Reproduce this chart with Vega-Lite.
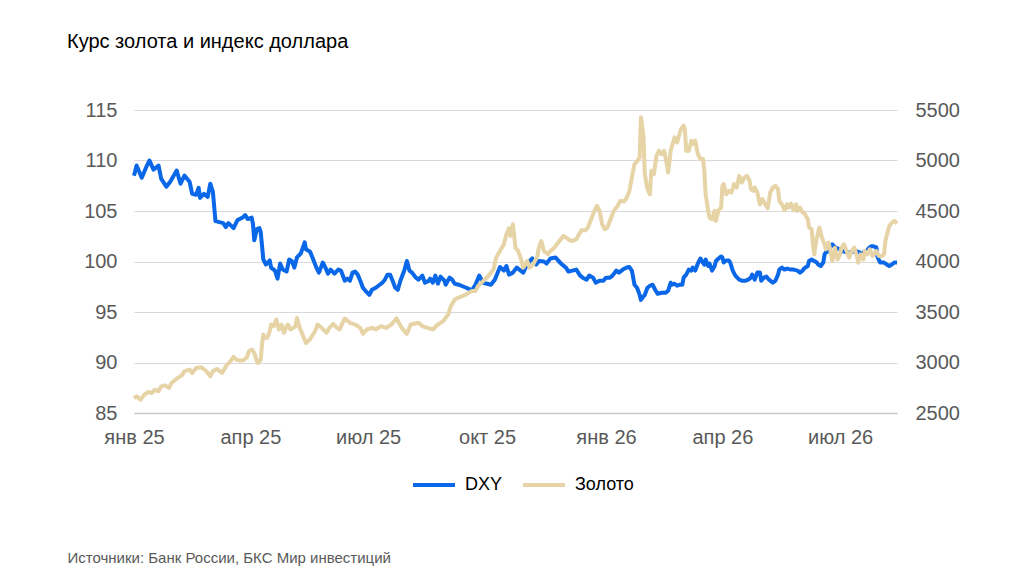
{
  "$schema": "https://vega.github.io/schema/vega-lite/v6.json",
  "description": "Курс золота и индекс доллара DXY, янв 2025 - авг 2026",
  "width": 763,
  "height": 303,
  "autosize": {"type": "none"},
  "padding": {"left": 134, "top": 110, "right": 127, "bottom": 170},
  "background": "white",
  "title": {
    "text": "Курс золота и индекс доллара",
    "anchor": "start",
    "frame": "group",
    "dx": -67,
    "offset": 32,
    "baseline": "alphabetic",
    "font": "Liberation Sans",
    "fontSize": 20,
    "fontWeight": "normal",
    "color": "#000000"
  },
  "data": {
    "values": [
      {"date": "2025-01-01", "series": "DXY", "value": 108.5},
      {"date": "2025-01-03", "series": "DXY", "value": 109.5},
      {"date": "2025-01-07", "series": "DXY", "value": 108.3},
      {"date": "2025-01-11", "series": "DXY", "value": 109.5},
      {"date": "2025-01-13", "series": "DXY", "value": 110.0},
      {"date": "2025-01-16", "series": "DXY", "value": 109.1},
      {"date": "2025-01-20", "series": "DXY", "value": 109.5},
      {"date": "2025-01-22", "series": "DXY", "value": 108.2},
      {"date": "2025-01-26", "series": "DXY", "value": 107.4},
      {"date": "2025-01-29", "series": "DXY", "value": 107.9},
      {"date": "2025-02-03", "series": "DXY", "value": 109.0},
      {"date": "2025-02-06", "series": "DXY", "value": 107.7},
      {"date": "2025-02-09", "series": "DXY", "value": 108.5},
      {"date": "2025-02-13", "series": "DXY", "value": 107.9},
      {"date": "2025-02-15", "series": "DXY", "value": 106.7},
      {"date": "2025-02-18", "series": "DXY", "value": 106.6},
      {"date": "2025-02-20", "series": "DXY", "value": 107.3},
      {"date": "2025-02-21", "series": "DXY", "value": 106.3},
      {"date": "2025-02-24", "series": "DXY", "value": 106.7},
      {"date": "2025-02-27", "series": "DXY", "value": 106.4},
      {"date": "2025-03-01", "series": "DXY", "value": 107.7},
      {"date": "2025-03-03", "series": "DXY", "value": 106.9},
      {"date": "2025-03-05", "series": "DXY", "value": 104.0},
      {"date": "2025-03-08", "series": "DXY", "value": 103.9},
      {"date": "2025-03-11", "series": "DXY", "value": 103.8},
      {"date": "2025-03-13", "series": "DXY", "value": 103.4},
      {"date": "2025-03-15", "series": "DXY", "value": 103.8},
      {"date": "2025-03-19", "series": "DXY", "value": 103.3},
      {"date": "2025-03-22", "series": "DXY", "value": 104.1},
      {"date": "2025-03-26", "series": "DXY", "value": 104.35},
      {"date": "2025-03-28", "series": "DXY", "value": 104.6},
      {"date": "2025-03-30", "series": "DXY", "value": 104.2},
      {"date": "2025-04-02", "series": "DXY", "value": 104.35},
      {"date": "2025-04-03", "series": "DXY", "value": 103.7},
      {"date": "2025-04-04", "series": "DXY", "value": 102.1},
      {"date": "2025-04-06", "series": "DXY", "value": 103.2},
      {"date": "2025-04-08", "series": "DXY", "value": 103.3},
      {"date": "2025-04-09", "series": "DXY", "value": 102.9},
      {"date": "2025-04-11", "series": "DXY", "value": 100.2},
      {"date": "2025-04-13", "series": "DXY", "value": 99.7},
      {"date": "2025-04-16", "series": "DXY", "value": 100.1},
      {"date": "2025-04-17", "series": "DXY", "value": 99.4},
      {"date": "2025-04-20", "series": "DXY", "value": 99.1},
      {"date": "2025-04-22", "series": "DXY", "value": 98.3},
      {"date": "2025-04-24", "series": "DXY", "value": 99.8},
      {"date": "2025-04-26", "series": "DXY", "value": 99.2},
      {"date": "2025-04-29", "series": "DXY", "value": 99.0},
      {"date": "2025-05-01", "series": "DXY", "value": 100.2},
      {"date": "2025-05-03", "series": "DXY", "value": 100.05},
      {"date": "2025-05-05", "series": "DXY", "value": 99.4},
      {"date": "2025-05-07", "series": "DXY", "value": 100.4},
      {"date": "2025-05-10", "series": "DXY", "value": 100.8},
      {"date": "2025-05-13", "series": "DXY", "value": 101.9},
      {"date": "2025-05-14", "series": "DXY", "value": 101.2},
      {"date": "2025-05-17", "series": "DXY", "value": 101.0},
      {"date": "2025-05-19", "series": "DXY", "value": 100.4},
      {"date": "2025-05-22", "series": "DXY", "value": 99.4},
      {"date": "2025-05-24", "series": "DXY", "value": 98.9},
      {"date": "2025-05-27", "series": "DXY", "value": 99.9},
      {"date": "2025-05-29", "series": "DXY", "value": 99.4},
      {"date": "2025-05-31", "series": "DXY", "value": 98.8},
      {"date": "2025-06-02", "series": "DXY", "value": 99.2},
      {"date": "2025-06-05", "series": "DXY", "value": 98.8},
      {"date": "2025-06-08", "series": "DXY", "value": 99.2},
      {"date": "2025-06-10", "series": "DXY", "value": 99.1},
      {"date": "2025-06-13", "series": "DXY", "value": 98.1},
      {"date": "2025-06-15", "series": "DXY", "value": 98.3},
      {"date": "2025-06-17", "series": "DXY", "value": 98.1},
      {"date": "2025-06-19", "series": "DXY", "value": 98.9},
      {"date": "2025-06-21", "series": "DXY", "value": 99.0},
      {"date": "2025-06-23", "series": "DXY", "value": 98.7},
      {"date": "2025-06-25", "series": "DXY", "value": 98.1},
      {"date": "2025-06-27", "series": "DXY", "value": 97.4},
      {"date": "2025-06-29", "series": "DXY", "value": 97.1},
      {"date": "2025-07-02", "series": "DXY", "value": 96.7},
      {"date": "2025-07-04", "series": "DXY", "value": 97.2},
      {"date": "2025-07-07", "series": "DXY", "value": 97.4},
      {"date": "2025-07-09", "series": "DXY", "value": 97.6},
      {"date": "2025-07-12", "series": "DXY", "value": 97.9},
      {"date": "2025-07-14", "series": "DXY", "value": 98.2},
      {"date": "2025-07-16", "series": "DXY", "value": 98.7},
      {"date": "2025-07-18", "series": "DXY", "value": 98.7},
      {"date": "2025-07-20", "series": "DXY", "value": 98.1},
      {"date": "2025-07-22", "series": "DXY", "value": 97.4},
      {"date": "2025-07-24", "series": "DXY", "value": 97.2},
      {"date": "2025-07-26", "series": "DXY", "value": 98.1},
      {"date": "2025-07-29", "series": "DXY", "value": 99.1},
      {"date": "2025-07-31", "series": "DXY", "value": 100.05},
      {"date": "2025-08-02", "series": "DXY", "value": 99.1},
      {"date": "2025-08-04", "series": "DXY", "value": 98.9},
      {"date": "2025-08-07", "series": "DXY", "value": 98.4},
      {"date": "2025-08-09", "series": "DXY", "value": 98.2},
      {"date": "2025-08-12", "series": "DXY", "value": 98.6},
      {"date": "2025-08-14", "series": "DXY", "value": 97.9},
      {"date": "2025-08-17", "series": "DXY", "value": 98.1},
      {"date": "2025-08-18", "series": "DXY", "value": 98.3},
      {"date": "2025-08-20", "series": "DXY", "value": 97.9},
      {"date": "2025-08-22", "series": "DXY", "value": 98.6},
      {"date": "2025-08-24", "series": "DXY", "value": 97.8},
      {"date": "2025-08-26", "series": "DXY", "value": 98.5},
      {"date": "2025-08-29", "series": "DXY", "value": 98.1},
      {"date": "2025-08-30", "series": "DXY", "value": 97.7},
      {"date": "2025-09-02", "series": "DXY", "value": 98.4},
      {"date": "2025-09-04", "series": "DXY", "value": 98.2},
      {"date": "2025-09-06", "series": "DXY", "value": 97.8},
      {"date": "2025-09-09", "series": "DXY", "value": 97.7},
      {"date": "2025-09-13", "series": "DXY", "value": 97.5},
      {"date": "2025-09-17", "series": "DXY", "value": 97.3},
      {"date": "2025-09-19", "series": "DXY", "value": 97.1},
      {"date": "2025-09-22", "series": "DXY", "value": 97.7},
      {"date": "2025-09-25", "series": "DXY", "value": 98.6},
      {"date": "2025-09-28", "series": "DXY", "value": 97.9},
      {"date": "2025-10-01", "series": "DXY", "value": 97.8},
      {"date": "2025-10-04", "series": "DXY", "value": 97.7},
      {"date": "2025-10-07", "series": "DXY", "value": 98.2},
      {"date": "2025-10-11", "series": "DXY", "value": 99.45},
      {"date": "2025-10-14", "series": "DXY", "value": 99.1},
      {"date": "2025-10-16", "series": "DXY", "value": 99.55},
      {"date": "2025-10-18", "series": "DXY", "value": 98.7},
      {"date": "2025-10-21", "series": "DXY", "value": 98.9},
      {"date": "2025-10-24", "series": "DXY", "value": 99.4},
      {"date": "2025-10-27", "series": "DXY", "value": 99.1},
      {"date": "2025-10-29", "series": "DXY", "value": 98.9},
      {"date": "2025-10-31", "series": "DXY", "value": 99.45},
      {"date": "2025-11-03", "series": "DXY", "value": 100.05},
      {"date": "2025-11-05", "series": "DXY", "value": 100.3},
      {"date": "2025-11-08", "series": "DXY", "value": 99.7},
      {"date": "2025-11-10", "series": "DXY", "value": 100.05},
      {"date": "2025-11-14", "series": "DXY", "value": 100.0},
      {"date": "2025-11-16", "series": "DXY", "value": 99.8},
      {"date": "2025-11-19", "series": "DXY", "value": 100.3},
      {"date": "2025-11-23", "series": "DXY", "value": 100.4},
      {"date": "2025-11-25", "series": "DXY", "value": 100.1},
      {"date": "2025-11-28", "series": "DXY", "value": 99.7},
      {"date": "2025-12-01", "series": "DXY", "value": 99.4},
      {"date": "2025-12-03", "series": "DXY", "value": 99.0},
      {"date": "2025-12-06", "series": "DXY", "value": 99.1},
      {"date": "2025-12-09", "series": "DXY", "value": 99.2},
      {"date": "2025-12-12", "series": "DXY", "value": 98.6},
      {"date": "2025-12-14", "series": "DXY", "value": 98.4},
      {"date": "2025-12-17", "series": "DXY", "value": 98.2},
      {"date": "2025-12-19", "series": "DXY", "value": 98.6},
      {"date": "2025-12-22", "series": "DXY", "value": 98.4},
      {"date": "2025-12-24", "series": "DXY", "value": 97.9},
      {"date": "2025-12-27", "series": "DXY", "value": 98.1},
      {"date": "2025-12-30", "series": "DXY", "value": 98.1},
      {"date": "2026-01-01", "series": "DXY", "value": 98.4},
      {"date": "2026-01-04", "series": "DXY", "value": 98.4},
      {"date": "2026-01-06", "series": "DXY", "value": 98.6},
      {"date": "2026-01-09", "series": "DXY", "value": 99.1},
      {"date": "2026-01-11", "series": "DXY", "value": 98.9},
      {"date": "2026-01-14", "series": "DXY", "value": 99.2},
      {"date": "2026-01-17", "series": "DXY", "value": 99.4},
      {"date": "2026-01-19", "series": "DXY", "value": 99.45},
      {"date": "2026-01-21", "series": "DXY", "value": 99.1},
      {"date": "2026-01-23", "series": "DXY", "value": 97.7},
      {"date": "2026-01-25", "series": "DXY", "value": 97.4},
      {"date": "2026-01-27", "series": "DXY", "value": 96.7},
      {"date": "2026-01-28", "series": "DXY", "value": 96.2},
      {"date": "2026-01-31", "series": "DXY", "value": 96.7},
      {"date": "2026-02-02", "series": "DXY", "value": 97.4},
      {"date": "2026-02-04", "series": "DXY", "value": 97.6},
      {"date": "2026-02-06", "series": "DXY", "value": 97.7},
      {"date": "2026-02-08", "series": "DXY", "value": 97.2},
      {"date": "2026-02-10", "series": "DXY", "value": 96.8},
      {"date": "2026-02-13", "series": "DXY", "value": 96.9},
      {"date": "2026-02-16", "series": "DXY", "value": 96.9},
      {"date": "2026-02-18", "series": "DXY", "value": 97.1},
      {"date": "2026-02-20", "series": "DXY", "value": 97.9},
      {"date": "2026-02-21", "series": "DXY", "value": 97.7},
      {"date": "2026-02-23", "series": "DXY", "value": 97.8},
      {"date": "2026-02-25", "series": "DXY", "value": 97.6},
      {"date": "2026-02-27", "series": "DXY", "value": 97.7},
      {"date": "2026-03-01", "series": "DXY", "value": 97.7},
      {"date": "2026-03-02", "series": "DXY", "value": 98.4},
      {"date": "2026-03-04", "series": "DXY", "value": 98.7},
      {"date": "2026-03-06", "series": "DXY", "value": 99.2},
      {"date": "2026-03-08", "series": "DXY", "value": 99.1},
      {"date": "2026-03-09", "series": "DXY", "value": 99.4},
      {"date": "2026-03-11", "series": "DXY", "value": 99.1},
      {"date": "2026-03-13", "series": "DXY", "value": 99.8},
      {"date": "2026-03-15", "series": "DXY", "value": 100.3},
      {"date": "2026-03-16", "series": "DXY", "value": 100.05},
      {"date": "2026-03-18", "series": "DXY", "value": 99.7},
      {"date": "2026-03-19", "series": "DXY", "value": 100.2},
      {"date": "2026-03-21", "series": "DXY", "value": 99.55},
      {"date": "2026-03-22", "series": "DXY", "value": 99.8},
      {"date": "2026-03-24", "series": "DXY", "value": 99.1},
      {"date": "2026-03-26", "series": "DXY", "value": 99.55},
      {"date": "2026-03-27", "series": "DXY", "value": 100.05},
      {"date": "2026-03-29", "series": "DXY", "value": 100.3},
      {"date": "2026-03-31", "series": "DXY", "value": 100.5},
      {"date": "2026-04-01", "series": "DXY", "value": 100.4},
      {"date": "2026-04-02", "series": "DXY", "value": 99.9},
      {"date": "2026-04-04", "series": "DXY", "value": 100.1},
      {"date": "2026-04-06", "series": "DXY", "value": 100.1},
      {"date": "2026-04-07", "series": "DXY", "value": 99.9},
      {"date": "2026-04-09", "series": "DXY", "value": 99.1},
      {"date": "2026-04-11", "series": "DXY", "value": 98.6},
      {"date": "2026-04-14", "series": "DXY", "value": 98.2},
      {"date": "2026-04-16", "series": "DXY", "value": 98.1},
      {"date": "2026-04-19", "series": "DXY", "value": 98.1},
      {"date": "2026-04-21", "series": "DXY", "value": 98.2},
      {"date": "2026-04-23", "series": "DXY", "value": 98.4},
      {"date": "2026-04-24", "series": "DXY", "value": 98.7},
      {"date": "2026-04-26", "series": "DXY", "value": 98.2},
      {"date": "2026-04-28", "series": "DXY", "value": 98.9},
      {"date": "2026-04-30", "series": "DXY", "value": 98.9},
      {"date": "2026-05-01", "series": "DXY", "value": 98.1},
      {"date": "2026-05-03", "series": "DXY", "value": 98.4},
      {"date": "2026-05-05", "series": "DXY", "value": 98.5},
      {"date": "2026-05-07", "series": "DXY", "value": 98.2},
      {"date": "2026-05-10", "series": "DXY", "value": 97.9},
      {"date": "2026-05-12", "series": "DXY", "value": 98.1},
      {"date": "2026-05-14", "series": "DXY", "value": 98.7},
      {"date": "2026-05-15", "series": "DXY", "value": 99.2},
      {"date": "2026-05-17", "series": "DXY", "value": 99.4},
      {"date": "2026-05-19", "series": "DXY", "value": 99.2},
      {"date": "2026-05-21", "series": "DXY", "value": 99.3},
      {"date": "2026-05-24", "series": "DXY", "value": 99.2},
      {"date": "2026-05-26", "series": "DXY", "value": 99.2},
      {"date": "2026-05-29", "series": "DXY", "value": 99.1},
      {"date": "2026-05-31", "series": "DXY", "value": 98.9},
      {"date": "2026-06-02", "series": "DXY", "value": 99.1},
      {"date": "2026-06-03", "series": "DXY", "value": 99.3},
      {"date": "2026-06-06", "series": "DXY", "value": 99.55},
      {"date": "2026-06-07", "series": "DXY", "value": 100.05},
      {"date": "2026-06-09", "series": "DXY", "value": 100.2},
      {"date": "2026-06-11", "series": "DXY", "value": 100.05},
      {"date": "2026-06-13", "series": "DXY", "value": 99.9},
      {"date": "2026-06-14", "series": "DXY", "value": 99.7},
      {"date": "2026-06-16", "series": "DXY", "value": 99.55},
      {"date": "2026-06-18", "series": "DXY", "value": 99.9},
      {"date": "2026-06-19", "series": "DXY", "value": 100.7},
      {"date": "2026-06-20", "series": "DXY", "value": 100.9},
      {"date": "2026-06-22", "series": "DXY", "value": 101.0},
      {"date": "2026-06-23", "series": "DXY", "value": 101.5},
      {"date": "2026-06-25", "series": "DXY", "value": 101.7},
      {"date": "2026-06-27", "series": "DXY", "value": 101.4},
      {"date": "2026-06-29", "series": "DXY", "value": 101.3},
      {"date": "2026-07-01", "series": "DXY", "value": 101.2},
      {"date": "2026-07-03", "series": "DXY", "value": 101.0},
      {"date": "2026-07-04", "series": "DXY", "value": 101.0},
      {"date": "2026-07-06", "series": "DXY", "value": 100.9},
      {"date": "2026-07-08", "series": "DXY", "value": 100.9},
      {"date": "2026-07-10", "series": "DXY", "value": 100.9},
      {"date": "2026-07-12", "series": "DXY", "value": 101.1},
      {"date": "2026-07-14", "series": "DXY", "value": 101.0},
      {"date": "2026-07-16", "series": "DXY", "value": 100.9},
      {"date": "2026-07-18", "series": "DXY", "value": 100.7},
      {"date": "2026-07-20", "series": "DXY", "value": 101.0},
      {"date": "2026-07-21", "series": "DXY", "value": 100.9},
      {"date": "2026-07-23", "series": "DXY", "value": 101.3},
      {"date": "2026-07-25", "series": "DXY", "value": 101.5},
      {"date": "2026-07-27", "series": "DXY", "value": 101.5},
      {"date": "2026-07-29", "series": "DXY", "value": 101.4},
      {"date": "2026-07-30", "series": "DXY", "value": 100.4},
      {"date": "2026-08-01", "series": "DXY", "value": 99.9},
      {"date": "2026-08-02", "series": "DXY", "value": 99.9},
      {"date": "2026-08-04", "series": "DXY", "value": 99.9},
      {"date": "2026-08-06", "series": "DXY", "value": 99.7},
      {"date": "2026-08-08", "series": "DXY", "value": 99.55},
      {"date": "2026-08-10", "series": "DXY", "value": 99.7},
      {"date": "2026-08-12", "series": "DXY", "value": 99.9},
      {"date": "2026-08-14", "series": "DXY", "value": 99.9},

      {"date": "2025-01-01", "series": "Золото", "value": 2649},
      {"date": "2025-01-03", "series": "Золото", "value": 2665},
      {"date": "2025-01-06", "series": "Золото", "value": 2632},
      {"date": "2025-01-09", "series": "Золото", "value": 2682},
      {"date": "2025-01-12", "series": "Золото", "value": 2708},
      {"date": "2025-01-15", "series": "Золото", "value": 2698},
      {"date": "2025-01-17", "series": "Золото", "value": 2731},
      {"date": "2025-01-20", "series": "Золото", "value": 2715},
      {"date": "2025-01-22", "series": "Золото", "value": 2764},
      {"date": "2025-01-25", "series": "Золото", "value": 2774},
      {"date": "2025-01-28", "series": "Золото", "value": 2748},
      {"date": "2025-01-30", "series": "Золото", "value": 2797},
      {"date": "2025-02-02", "series": "Золото", "value": 2830},
      {"date": "2025-02-04", "series": "Золото", "value": 2847},
      {"date": "2025-02-07", "series": "Золото", "value": 2873},
      {"date": "2025-02-09", "series": "Золото", "value": 2913},
      {"date": "2025-02-13", "series": "Золото", "value": 2930},
      {"date": "2025-02-15", "series": "Золото", "value": 2897},
      {"date": "2025-02-18", "series": "Золото", "value": 2946},
      {"date": "2025-02-22", "series": "Золото", "value": 2953},
      {"date": "2025-02-26", "series": "Золото", "value": 2913},
      {"date": "2025-03-01", "series": "Золото", "value": 2863},
      {"date": "2025-03-03", "series": "Золото", "value": 2913},
      {"date": "2025-03-06", "series": "Золото", "value": 2936},
      {"date": "2025-03-10", "series": "Золото", "value": 2897},
      {"date": "2025-03-14", "series": "Золото", "value": 2979},
      {"date": "2025-03-16", "series": "Золото", "value": 3002},
      {"date": "2025-03-19", "series": "Золото", "value": 3055},
      {"date": "2025-03-21", "series": "Золото", "value": 3029},
      {"date": "2025-03-24", "series": "Золото", "value": 3019},
      {"date": "2025-03-26", "series": "Золото", "value": 3019},
      {"date": "2025-03-29", "series": "Золото", "value": 3045},
      {"date": "2025-03-31", "series": "Золото", "value": 3112},
      {"date": "2025-04-02", "series": "Золото", "value": 3128},
      {"date": "2025-04-04", "series": "Золото", "value": 3095},
      {"date": "2025-04-06", "series": "Золото", "value": 3012},
      {"date": "2025-04-07", "series": "Золото", "value": 2996},
      {"date": "2025-04-09", "series": "Золото", "value": 3029},
      {"date": "2025-04-10", "series": "Золото", "value": 3178},
      {"date": "2025-04-11", "series": "Золото", "value": 3277},
      {"date": "2025-04-12", "series": "Золото", "value": 3244},
      {"date": "2025-04-14", "series": "Золото", "value": 3244},
      {"date": "2025-04-16", "series": "Золото", "value": 3310},
      {"date": "2025-04-17", "series": "Золото", "value": 3376},
      {"date": "2025-04-19", "series": "Золото", "value": 3360},
      {"date": "2025-04-21", "series": "Золото", "value": 3426},
      {"date": "2025-04-23", "series": "Золото", "value": 3327},
      {"date": "2025-04-25", "series": "Золото", "value": 3376},
      {"date": "2025-04-27", "series": "Золото", "value": 3294},
      {"date": "2025-04-29", "series": "Золото", "value": 3360},
      {"date": "2025-04-30", "series": "Золото", "value": 3376},
      {"date": "2025-05-02", "series": "Золото", "value": 3327},
      {"date": "2025-05-04", "series": "Золото", "value": 3343},
      {"date": "2025-05-06", "series": "Золото", "value": 3360},
      {"date": "2025-05-07", "series": "Золото", "value": 3442},
      {"date": "2025-05-09", "series": "Золото", "value": 3350},
      {"date": "2025-05-14", "series": "Золото", "value": 3194},
      {"date": "2025-05-17", "series": "Золото", "value": 3227},
      {"date": "2025-05-21", "series": "Золото", "value": 3310},
      {"date": "2025-05-23", "series": "Золото", "value": 3376},
      {"date": "2025-05-26", "series": "Золото", "value": 3343},
      {"date": "2025-05-30", "series": "Золото", "value": 3294},
      {"date": "2025-06-01", "series": "Золото", "value": 3343},
      {"date": "2025-06-04", "series": "Золото", "value": 3383},
      {"date": "2025-06-07", "series": "Золото", "value": 3343},
      {"date": "2025-06-09", "series": "Золото", "value": 3327},
      {"date": "2025-06-13", "series": "Золото", "value": 3436},
      {"date": "2025-06-17", "series": "Золото", "value": 3393},
      {"date": "2025-06-21", "series": "Золото", "value": 3376},
      {"date": "2025-06-25", "series": "Золото", "value": 3343},
      {"date": "2025-06-27", "series": "Золото", "value": 3284},
      {"date": "2025-06-30", "series": "Золото", "value": 3327},
      {"date": "2025-07-04", "series": "Золото", "value": 3343},
      {"date": "2025-07-07", "series": "Золото", "value": 3327},
      {"date": "2025-07-11", "series": "Золото", "value": 3360},
      {"date": "2025-07-15", "series": "Золото", "value": 3343},
      {"date": "2025-07-19", "series": "Золото", "value": 3376},
      {"date": "2025-07-23", "series": "Золото", "value": 3436},
      {"date": "2025-07-27", "series": "Золото", "value": 3343},
      {"date": "2025-07-31", "series": "Золото", "value": 3284},
      {"date": "2025-08-03", "series": "Золото", "value": 3376},
      {"date": "2025-08-09", "series": "Золото", "value": 3393},
      {"date": "2025-08-12", "series": "Золото", "value": 3360},
      {"date": "2025-08-16", "series": "Золото", "value": 3343},
      {"date": "2025-08-20", "series": "Золото", "value": 3327},
      {"date": "2025-08-24", "series": "Золото", "value": 3376},
      {"date": "2025-08-28", "series": "Золото", "value": 3409},
      {"date": "2025-09-01", "series": "Золото", "value": 3475},
      {"date": "2025-09-03", "series": "Золото", "value": 3558},
      {"date": "2025-09-06", "series": "Золото", "value": 3624},
      {"date": "2025-09-10", "series": "Золото", "value": 3648},
      {"date": "2025-09-15", "series": "Золото", "value": 3674},
      {"date": "2025-09-19", "series": "Золото", "value": 3707},
      {"date": "2025-09-22", "series": "Золото", "value": 3707},
      {"date": "2025-09-24", "series": "Золото", "value": 3757},
      {"date": "2025-09-28", "series": "Золото", "value": 3806},
      {"date": "2025-10-02", "series": "Золото", "value": 3856},
      {"date": "2025-10-06", "series": "Золото", "value": 3922},
      {"date": "2025-10-08", "series": "Золото", "value": 4038},
      {"date": "2025-10-11", "series": "Золото", "value": 4104},
      {"date": "2025-10-14", "series": "Золото", "value": 4170},
      {"date": "2025-10-16", "series": "Золото", "value": 4269},
      {"date": "2025-10-18", "series": "Золото", "value": 4329},
      {"date": "2025-10-19", "series": "Золото", "value": 4253},
      {"date": "2025-10-21", "series": "Золото", "value": 4369},
      {"date": "2025-10-23", "series": "Золото", "value": 4137},
      {"date": "2025-10-25", "series": "Золото", "value": 4104},
      {"date": "2025-10-27", "series": "Золото", "value": 4038},
      {"date": "2025-10-29", "series": "Золото", "value": 3939},
      {"date": "2025-11-01", "series": "Золото", "value": 4005},
      {"date": "2025-11-03", "series": "Золото", "value": 3939},
      {"date": "2025-11-06", "series": "Золото", "value": 3978},
      {"date": "2025-11-09", "series": "Золото", "value": 4054},
      {"date": "2025-11-10", "series": "Золото", "value": 4137},
      {"date": "2025-11-12", "series": "Золото", "value": 4203},
      {"date": "2025-11-14", "series": "Золото", "value": 4104},
      {"date": "2025-11-17", "series": "Золото", "value": 4071},
      {"date": "2025-11-19", "series": "Золото", "value": 4104},
      {"date": "2025-11-22", "series": "Золото", "value": 4137},
      {"date": "2025-11-24", "series": "Золото", "value": 4170},
      {"date": "2025-11-27", "series": "Золото", "value": 4220},
      {"date": "2025-11-29", "series": "Золото", "value": 4253},
      {"date": "2025-12-01", "series": "Золото", "value": 4236},
      {"date": "2025-12-04", "series": "Золото", "value": 4210},
      {"date": "2025-12-06", "series": "Золото", "value": 4203},
      {"date": "2025-12-09", "series": "Золото", "value": 4220},
      {"date": "2025-12-12", "series": "Золото", "value": 4286},
      {"date": "2025-12-13", "series": "Золото", "value": 4309},
      {"date": "2025-12-16", "series": "Золото", "value": 4309},
      {"date": "2025-12-18", "series": "Золото", "value": 4336},
      {"date": "2025-12-21", "series": "Золото", "value": 4435},
      {"date": "2025-12-23", "series": "Золото", "value": 4501},
      {"date": "2025-12-25", "series": "Золото", "value": 4551},
      {"date": "2025-12-27", "series": "Золото", "value": 4501},
      {"date": "2025-12-29", "series": "Золото", "value": 4369},
      {"date": "2025-12-31", "series": "Золото", "value": 4319},
      {"date": "2026-01-02", "series": "Золото", "value": 4336},
      {"date": "2026-01-05", "series": "Золото", "value": 4435},
      {"date": "2026-01-07", "series": "Золото", "value": 4501},
      {"date": "2026-01-10", "series": "Золото", "value": 4551},
      {"date": "2026-01-12", "series": "Золото", "value": 4600},
      {"date": "2026-01-15", "series": "Золото", "value": 4594},
      {"date": "2026-01-17", "series": "Золото", "value": 4633},
      {"date": "2026-01-19", "series": "Золото", "value": 4693},
      {"date": "2026-01-21", "series": "Золото", "value": 4832},
      {"date": "2026-01-23", "series": "Золото", "value": 4964},
      {"date": "2026-01-25", "series": "Золото", "value": 4991},
      {"date": "2026-01-27", "series": "Золото", "value": 5030},
      {"date": "2026-01-28", "series": "Золото", "value": 5427},
      {"date": "2026-01-30", "series": "Золото", "value": 5229},
      {"date": "2026-01-31", "series": "Золото", "value": 4865},
      {"date": "2026-02-02", "series": "Золото", "value": 4716},
      {"date": "2026-02-04", "series": "Золото", "value": 4666},
      {"date": "2026-02-05", "series": "Золото", "value": 4898},
      {"date": "2026-02-07", "series": "Золото", "value": 4865},
      {"date": "2026-02-09", "series": "Золото", "value": 5047},
      {"date": "2026-02-11", "series": "Золото", "value": 5096},
      {"date": "2026-02-13", "series": "Золото", "value": 5063},
      {"date": "2026-02-15", "series": "Золото", "value": 5096},
      {"date": "2026-02-17", "series": "Золото", "value": 4964},
      {"date": "2026-02-18", "series": "Золото", "value": 4881},
      {"date": "2026-02-20", "series": "Золото", "value": 5096},
      {"date": "2026-02-23", "series": "Золото", "value": 5229},
      {"date": "2026-02-25", "series": "Золото", "value": 5179},
      {"date": "2026-02-26", "series": "Золото", "value": 5229},
      {"date": "2026-02-28", "series": "Золото", "value": 5311},
      {"date": "2026-03-02", "series": "Золото", "value": 5345},
      {"date": "2026-03-03", "series": "Золото", "value": 5311},
      {"date": "2026-03-04", "series": "Золото", "value": 5096},
      {"date": "2026-03-06", "series": "Золото", "value": 5096},
      {"date": "2026-03-08", "series": "Золото", "value": 5196},
      {"date": "2026-03-09", "series": "Золото", "value": 5163},
      {"date": "2026-03-11", "series": "Золото", "value": 5196},
      {"date": "2026-03-13", "series": "Золото", "value": 5063},
      {"date": "2026-03-15", "series": "Золото", "value": 5014},
      {"date": "2026-03-17", "series": "Золото", "value": 5014},
      {"date": "2026-03-18", "series": "Золото", "value": 4898},
      {"date": "2026-03-19", "series": "Золото", "value": 4666},
      {"date": "2026-03-21", "series": "Золото", "value": 4501},
      {"date": "2026-03-22", "series": "Золото", "value": 4435},
      {"date": "2026-03-24", "series": "Золото", "value": 4418},
      {"date": "2026-03-26", "series": "Золото", "value": 4501},
      {"date": "2026-03-27", "series": "Золото", "value": 4402},
      {"date": "2026-03-29", "series": "Золото", "value": 4508},
      {"date": "2026-03-31", "series": "Золото", "value": 4534},
      {"date": "2026-04-01", "series": "Золото", "value": 4749},
      {"date": "2026-04-02", "series": "Золото", "value": 4766},
      {"date": "2026-04-04", "series": "Золото", "value": 4666},
      {"date": "2026-04-06", "series": "Золото", "value": 4699},
      {"date": "2026-04-08", "series": "Золото", "value": 4683},
      {"date": "2026-04-10", "series": "Золото", "value": 4766},
      {"date": "2026-04-12", "series": "Золото", "value": 4733},
      {"date": "2026-04-14", "series": "Золото", "value": 4848},
      {"date": "2026-04-16", "series": "Золото", "value": 4782},
      {"date": "2026-04-18", "series": "Золото", "value": 4832},
      {"date": "2026-04-20", "series": "Золото", "value": 4848},
      {"date": "2026-04-22", "series": "Золото", "value": 4799},
      {"date": "2026-04-23", "series": "Золото", "value": 4716},
      {"date": "2026-04-25", "series": "Золото", "value": 4699},
      {"date": "2026-04-26", "series": "Золото", "value": 4733},
      {"date": "2026-04-28", "series": "Золото", "value": 4683},
      {"date": "2026-04-30", "series": "Золото", "value": 4567},
      {"date": "2026-05-02", "series": "Золото", "value": 4617},
      {"date": "2026-05-04", "series": "Золото", "value": 4567},
      {"date": "2026-05-06", "series": "Золото", "value": 4527},
      {"date": "2026-05-08", "series": "Золото", "value": 4683},
      {"date": "2026-05-10", "series": "Золото", "value": 4733},
      {"date": "2026-05-12", "series": "Золото", "value": 4749},
      {"date": "2026-05-14", "series": "Золото", "value": 4716},
      {"date": "2026-05-15", "series": "Золото", "value": 4600},
      {"date": "2026-05-17", "series": "Золото", "value": 4567},
      {"date": "2026-05-19", "series": "Золото", "value": 4508},
      {"date": "2026-05-21", "series": "Золото", "value": 4567},
      {"date": "2026-05-22", "series": "Золото", "value": 4534},
      {"date": "2026-05-24", "series": "Золото", "value": 4574},
      {"date": "2026-05-26", "series": "Золото", "value": 4508},
      {"date": "2026-05-28", "series": "Золото", "value": 4567},
      {"date": "2026-05-29", "series": "Золото", "value": 4501},
      {"date": "2026-05-31", "series": "Золото", "value": 4534},
      {"date": "2026-06-02", "series": "Золото", "value": 4484},
      {"date": "2026-06-03", "series": "Золото", "value": 4484},
      {"date": "2026-06-06", "series": "Золото", "value": 4418},
      {"date": "2026-06-07", "series": "Золото", "value": 4336},
      {"date": "2026-06-09", "series": "Золото", "value": 4319},
      {"date": "2026-06-10", "series": "Золото", "value": 4170},
      {"date": "2026-06-11", "series": "Золото", "value": 4071},
      {"date": "2026-06-13", "series": "Золото", "value": 4236},
      {"date": "2026-06-15", "series": "Золото", "value": 4336},
      {"date": "2026-06-17", "series": "Золото", "value": 4236},
      {"date": "2026-06-19", "series": "Золото", "value": 4170},
      {"date": "2026-06-20", "series": "Золото", "value": 4121},
      {"date": "2026-06-22", "series": "Золото", "value": 4187},
      {"date": "2026-06-23", "series": "Золото", "value": 4137},
      {"date": "2026-06-25", "series": "Золото", "value": 4005},
      {"date": "2026-06-26", "series": "Золото", "value": 4071},
      {"date": "2026-06-27", "series": "Золото", "value": 4137},
      {"date": "2026-06-29", "series": "Золото", "value": 4021},
      {"date": "2026-07-01", "series": "Золото", "value": 4071},
      {"date": "2026-07-02", "series": "Золото", "value": 4137},
      {"date": "2026-07-04", "series": "Золото", "value": 4170},
      {"date": "2026-07-06", "series": "Золото", "value": 4104},
      {"date": "2026-07-08", "series": "Золото", "value": 4038},
      {"date": "2026-07-10", "series": "Золото", "value": 4104},
      {"date": "2026-07-12", "series": "Золото", "value": 4137},
      {"date": "2026-07-14", "series": "Золото", "value": 4054},
      {"date": "2026-07-15", "series": "Золото", "value": 3988},
      {"date": "2026-07-17", "series": "Золото", "value": 4071},
      {"date": "2026-07-19", "series": "Золото", "value": 4021},
      {"date": "2026-07-20", "series": "Золото", "value": 4104},
      {"date": "2026-07-22", "series": "Золото", "value": 4071},
      {"date": "2026-07-24", "series": "Золото", "value": 4121},
      {"date": "2026-07-26", "series": "Золото", "value": 4054},
      {"date": "2026-07-27", "series": "Золото", "value": 4071},
      {"date": "2026-07-29", "series": "Золото", "value": 4104},
      {"date": "2026-07-31", "series": "Золото", "value": 4054},
      {"date": "2026-08-02", "series": "Золото", "value": 4054},
      {"date": "2026-08-04", "series": "Золото", "value": 4071},
      {"date": "2026-08-05", "series": "Золото", "value": 4203},
      {"date": "2026-08-06", "series": "Золото", "value": 4253},
      {"date": "2026-08-08", "series": "Золото", "value": 4352},
      {"date": "2026-08-10", "series": "Золото", "value": 4385},
      {"date": "2026-08-12", "series": "Золото", "value": 4402},
      {"date": "2026-08-14", "series": "Золото", "value": 4375}
    ]
  },
  "encoding": {
    "x": {
      "field": "date",
      "type": "temporal",
      "scale": {"domain": [{"year": 2025, "month": 1, "date": 1}, {"year": 2026, "month": 8, "date": 14}]},
      "axis": {
        "values": [
          {"year": 2025, "month": 1, "date": 1},
          {"year": 2025, "month": 4, "date": 1},
          {"year": 2025, "month": 7, "date": 1},
          {"year": 2025, "month": 10, "date": 1},
          {"year": 2026, "month": 1, "date": 1},
          {"year": 2026, "month": 4, "date": 1},
          {"year": 2026, "month": 7, "date": 1}
        ],
        "labelExpr": "['янв','фев','мар','апр','май','июн','июл','авг','сен','окт','ноя','дек'][month(datum.value)] + ' ' + timeFormat(datum.value, '%y')",
        "labelFlush": false,
        "labelOverlap": false,
        "labelPadding": 14,
        "grid": false,
        "ticks": false,
        "domain": true,
        "domainColor": "#c8c8c8",
        "domainWidth": 1.5,
        "title": "Источники: Банк России, БКС Мир инвестиций",
        "titleX": -67,
        "titleY": 149,
        "titleAlign": "left",
        "titleBaseline": "alphabetic",
        "titleFont": "Liberation Sans",
        "titleFontSize": 15,
        "titleFontWeight": "normal",
        "titleColor": "#595959"
      }
    },
    "color": {
      "field": "series",
      "type": "nominal",
      "scale": {"domain": ["DXY", "Золото"], "range": ["#0a68e8", "#e6d3a6"]},
      "legend": {
        "orient": "none",
        "legendX": 277,
        "legendY": 352,
        "direction": "horizontal",
        "title": null,
        "padding": 0,
        "symbolType": "stroke",
        "symbolSize": 1764,
        "symbolStrokeWidth": 4,
        "labelFont": "Liberation Sans",
        "labelFontSize": 18,
        "labelColor": "#000000",
        "labelOffset": 8,
        "columnPadding": 12
      }
    }
  },
  "layer": [
    {
      "transform": [{"filter": "datum.series === 'DXY'"}],
      "mark": {"type": "line", "strokeWidth": 4, "strokeJoin": "round"},
      "encoding": {
        "y": {
          "field": "value",
          "type": "quantitative",
          "scale": {"domain": [85, 115]},
          "axis": {
            "orient": "left",
            "title": null,
            "values": [85, 90, 95, 100, 105, 110, 115],
            "grid": true,
            "gridColor": "#d9d9d9",
            "gridWidth": 1,
            "domain": false,
            "ticks": false,
            "labelPadding": 17,
            "labelFlush": false
          }
        }
      }
    },
    {
      "transform": [{"filter": "datum.series === 'Золото'"}],
      "mark": {"type": "line", "strokeWidth": 4, "strokeJoin": "round"},
      "encoding": {
        "y": {
          "field": "value",
          "type": "quantitative",
          "scale": {"domain": [2500, 5500]},
          "axis": {
            "orient": "right",
            "title": null,
            "format": "d",
            "values": [2500, 3000, 3500, 4000, 4500, 5000, 5500],
            "grid": false,
            "domain": false,
            "ticks": false,
            "labelPadding": 18,
            "labelFlush": false
          }
        }
      }
    }
  ],
  "resolve": {"scale": {"y": "independent"}},
  "config": {
    "view": {"stroke": null},
    "font": "Liberation Sans",
    "axis": {
      "labelFont": "Liberation Sans",
      "labelFontSize": 20,
      "labelColor": "#595959"
    }
  }
}
